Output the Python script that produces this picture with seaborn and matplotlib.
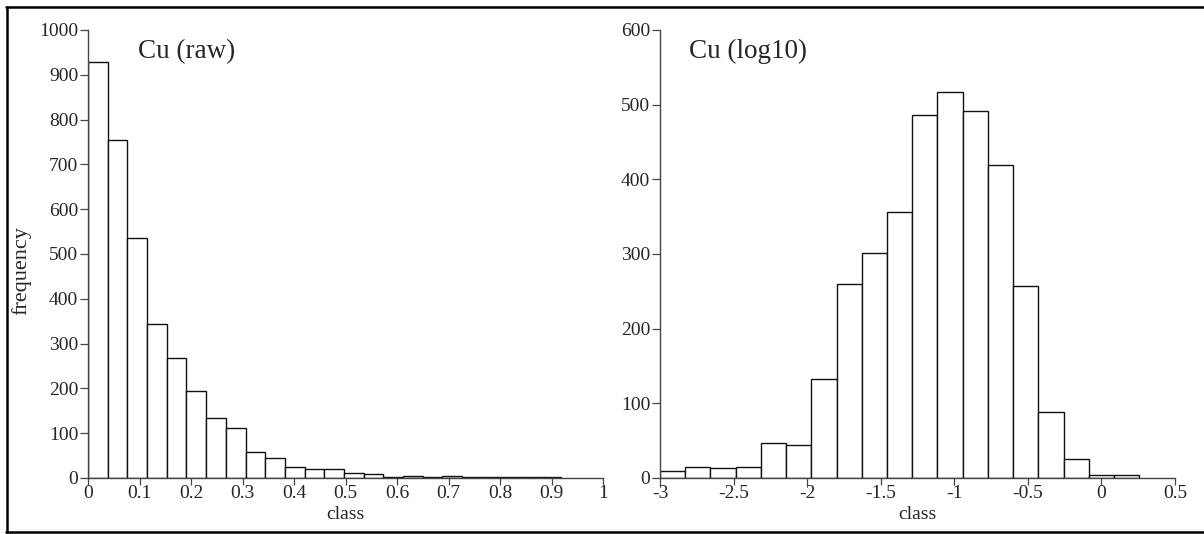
import matplotlib
matplotlib.use("Agg")
import matplotlib.pyplot as plt
from matplotlib.lines import Line2D
import numpy as np
import pandas as pd
import seaborn as sns

# ---- data ----
raw_counts = [929, 754, 535, 344, 267, 195, 134, 112, 59, 44, 25, 20,
              20, 11, 8, 3, 5, 3, 5, 3, 3, 3, 3, 3]
raw_min, raw_max = 0.0, 0.9175

log_counts = [10, 15, 13, 15, 47, 44, 132, 260, 302, 356, 486, 517,
              491, 419, 257, 88, 26, 4.5, 4.5]
log_min, log_max = -3.0, 0.257

raw_xticks = [0, 0.1, 0.2, 0.3, 0.4, 0.5, 0.6, 0.7, 0.8, 0.9, 1]
raw_xlabels = ["0", "0.1", "0.2", "0.3", "0.4", "0.5", "0.6", "0.7", "0.8", "0.9", "1"]
raw_yticks = [0, 100, 200, 300, 400, 500, 600, 700, 800, 900, 1000]

log_xticks = [-3, -2.5, -2, -1.5, -1, -0.5, 0, 0.5]
log_xlabels = ["-3", "-2.5", "-2", "-1.5", "-1", "-0.5", "0", "0.5"]
log_yticks = [0, 100, 200, 300, 400, 500, 600]

titles = ["Cu (raw)", "Cu (log10)"]
xlabel = "class"
ylabel = "frequency"

# ---- style ----
sns.set_style("white")
plt.rcParams["font.family"] = ["Liberation Serif", "DejaVu Serif"]
plt.rcParams["axes.unicode_minus"] = False

fig = plt.figure(figsize=(12.04, 5.34), dpi=100)
ax1 = fig.add_axes([88 / 1204, 1 - 478 / 534, (603 - 88) / 1204, (478 - 30) / 534])
ax2 = fig.add_axes([660 / 1204, 1 - 478 / 534, (1175 - 660) / 1204, (478 - 30) / 534])


def draw(ax, counts, lo, hi, xlim, ylim, xticks, xlabels, yticks, title, tx, ty):
    n = len(counts)
    edges = np.linspace(lo, hi, n + 1)
    centers = (edges[:-1] + edges[1:]) / 2
    df = pd.DataFrame({"x": centers, "w": np.asarray(counts, dtype=float)})
    sns.histplot(data=df, x="x", weights="w", bins=list(edges), ax=ax,
                 color="white", edgecolor="#111111", linewidth=1.0,
                 alpha=1.0, stat="count")
    ax.set_xlim(*xlim)
    ax.set_ylim(*ylim)
    ax.set_xticks(xticks)
    ax.set_xticklabels(xlabels)
    ax.set_yticks(yticks)
    ax.set_yticklabels([str(v) for v in yticks])
    for s in ["top", "right"]:
        ax.spines[s].set_visible(False)
    for s in ["left", "bottom"]:
        ax.spines[s].set_color("#444444")
        ax.spines[s].set_linewidth(1.0)
    ax.tick_params(axis="y", direction="out", length=6, width=0.9,
                   color="#444444", labelsize=14, pad=1, left=True)
    ax.tick_params(axis="x", direction="out", length=5, width=0.9,
                   color="#444444", labelsize=14, pad=0, bottom=True)
    ax.set_xlabel(xlabel, fontsize=14, labelpad=3)
    ax.set_ylabel("")
    ax.text(tx, ty, title, fontsize=19.5, ha="left", va="baseline")
    ax.set_facecolor("white")


draw(ax1, raw_counts, raw_min, raw_max, (0, 1), (0, 1000), raw_xticks,
     raw_xlabels, raw_yticks, titles[0], 0.097, 938)
draw(ax2, log_counts, log_min, log_max, (-3, 0.5), (0, 600), log_xticks,
     log_xlabels, log_yticks, titles[1], -2.80, 563)

fig.text(21 / 1204, 1 - 271 / 534, ylabel, rotation=90, fontsize=16,
         ha="center", va="center")

# outer frame (top, left, bottom)
for xs, ys in [((6 / 1204, 1.0), (1 - 6.5 / 534, 1 - 6.5 / 534)),
               ((7 / 1204, 7 / 1204), (1 - 6.5 / 534, 1 - 532 / 534)),
               ((6 / 1204, 1.0), (1 - 532 / 534, 1 - 532 / 534))]:
    fig.add_artist(Line2D(xs, ys, transform=fig.transFigure, color="black",
                          linewidth=1.8))

fig.savefig("out.png", dpi=100, facecolor="white")
